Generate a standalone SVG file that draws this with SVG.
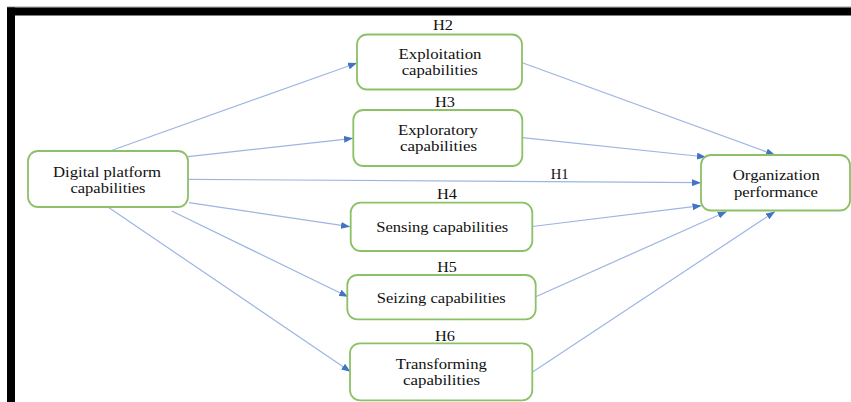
<svg xmlns="http://www.w3.org/2000/svg" width="851" height="402" viewBox="0 0 851 402">
<style>
.node rect{fill:#fff;stroke:#8cc168;stroke-width:1.8}
text{font-family:"Liberation Serif","Times New Roman",serif;font-size:14.5px;fill:#111;text-anchor:middle}
.conn line{stroke:#9db5e2;stroke-width:1.2;marker-end:url(#ah)}
</style>
<defs>
<marker id="ah" markerWidth="9" markerHeight="7" refX="9" refY="3.5" orient="auto" markerUnits="userSpaceOnUse">
<path d="M0,0 L9,3.5 L0,7 z" fill="#4472c4"/>
</marker>
</defs>
<rect x="0" y="0" width="851" height="402" fill="#fff"/>
<line x1="7" y1="7" x2="851" y2="7" stroke="#999" stroke-width="1"/>
<rect x="7" y="7.5" width="844" height="8" fill="#000"/>
<rect x="7" y="7.5" width="8" height="395" fill="#000"/>

<g class="conn" id="connectors">
<line x1="110" y1="151" x2="357" y2="63"/>
<line x1="188" y1="156.7" x2="353" y2="138.3"/>
<line x1="188" y1="179.3" x2="701" y2="182.7"/>
<line x1="189" y1="202.7" x2="350" y2="226.7"/>
<line x1="171.7" y1="211" x2="348" y2="296.7"/>
<line x1="108.3" y1="207.3" x2="350.5" y2="371.7"/>
<line x1="522.3" y1="62.7" x2="775" y2="155"/>
<line x1="522.3" y1="137.7" x2="706" y2="157"/>
<line x1="532.3" y1="226.5" x2="701.5" y2="205.7"/>
<line x1="535.7" y1="296.7" x2="726.7" y2="211.5"/>
<line x1="533" y1="371.7" x2="775" y2="211.5"/>
</g>

<g id="labels">
<text x="443" y="29.5" textLength="20" lengthAdjust="spacingAndGlyphs">H2</text>
<text x="445" y="107.3" textLength="20" lengthAdjust="spacingAndGlyphs">H3</text>
<text x="559.7" y="179.3" textLength="18" lengthAdjust="spacingAndGlyphs">H1</text>
<text x="447" y="199" textLength="20" lengthAdjust="spacingAndGlyphs">H4</text>
<text x="447" y="271.7" textLength="19.5" lengthAdjust="spacingAndGlyphs">H5</text>
<text x="445" y="340.7" textLength="20" lengthAdjust="spacingAndGlyphs">H6</text>
</g>

<g class="node" id="digital">
<rect x="28" y="151" width="160" height="56" rx="10"/>
<text x="107" y="176.5" textLength="108" lengthAdjust="spacingAndGlyphs">Digital platform</text>
<text x="108" y="192.5" textLength="75" lengthAdjust="spacingAndGlyphs">capabilities</text>
</g>
<g class="node" id="exploitation">
<rect x="357" y="34.5" width="165" height="55" rx="10"/>
<text x="440" y="59.3" textLength="83" lengthAdjust="spacingAndGlyphs">Exploitation</text>
<text x="439.7" y="75" textLength="76" lengthAdjust="spacingAndGlyphs">capabilities</text>
</g>
<g class="node" id="exploratory">
<rect x="353.3" y="110" width="169" height="56" rx="10"/>
<text x="438" y="135" textLength="80" lengthAdjust="spacingAndGlyphs">Exploratory</text>
<text x="438.5" y="150.7" textLength="77" lengthAdjust="spacingAndGlyphs">capabilities</text>
</g>
<g class="node" id="organization">
<rect x="701" y="155" width="149" height="55.5" rx="10"/>
<text x="776.3" y="180" textLength="87" lengthAdjust="spacingAndGlyphs">Organization</text>
<text x="776" y="196.7" textLength="84" lengthAdjust="spacingAndGlyphs">performance</text>
</g>
<g class="node" id="sensing">
<rect x="350.7" y="202.7" width="181.6" height="48.3" rx="10"/>
<text x="442.2" y="232.3" textLength="132" lengthAdjust="spacingAndGlyphs">Sensing capabilities</text>
</g>
<g class="node" id="seizing">
<rect x="347.3" y="275" width="188.4" height="44.3" rx="10"/>
<text x="441.3" y="303.3" textLength="129" lengthAdjust="spacingAndGlyphs">Seizing capabilities</text>
</g>
<g class="node" id="transforming">
<rect x="350" y="343.3" width="182.3" height="57" rx="10"/>
<text x="441.3" y="369" textLength="91" lengthAdjust="spacingAndGlyphs">Transforming</text>
<text x="441.5" y="384.5" textLength="77" lengthAdjust="spacingAndGlyphs">capabilities</text>
</g>
</svg>
